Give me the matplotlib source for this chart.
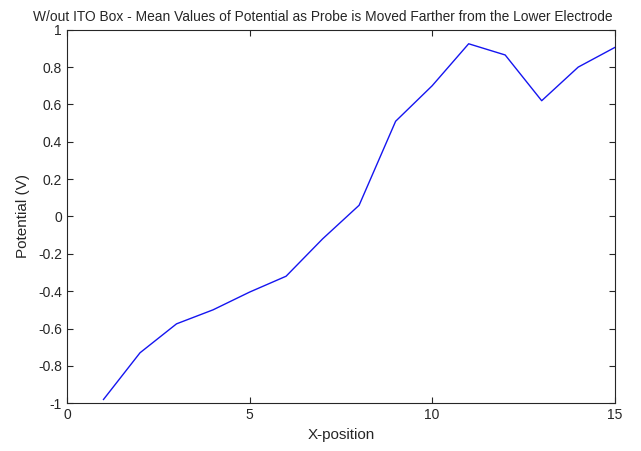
import matplotlib
matplotlib.use('Agg')
import matplotlib.pyplot as plt

plt.rcParams['font.family'] = ['Liberation Sans', 'DejaVu Sans']

# data
x_pos = [1, 2, 3, 4, 5, 6, 7, 8, 9, 10, 11, 12, 13, 14, 15]
potential = [-0.98, -0.73, -0.575, -0.50, -0.405, -0.32, -0.12, 0.06,
             0.51, 0.70, 0.925, 0.865, 0.62, 0.80, 0.905]
x_ticks = [0, 5, 10, 15]
y_ticks = [-1, -0.8, -0.6, -0.4, -0.2, 0, 0.2, 0.4, 0.6, 0.8, 1]

fig = plt.figure(figsize=(6.41, 4.51), dpi=100)
ax = fig.add_axes([0.1045, 0.106, 0.8545, 0.828])

ax.plot(x_pos, potential, color='#1515f0', linewidth=1.0)

ax.set_xlim(0, 15)
ax.set_ylim(-1, 1)
ax.set_xticks(x_ticks)
ax.set_yticks(y_ticks)
ax.set_yticklabels(['-1', '-0.8', '-0.6', '-0.4', '-0.2', '0', '0.2', '0.4', '0.6', '0.8', '1'])
ax.tick_params(direction='in', top=True, right=True, length=4, labelsize=10, color='#262626', labelcolor='#262626')
for s in ax.spines.values():
    s.set_color('#262626')
    s.set_linewidth(0.8)

ax.set_xlabel('X-position', fontsize=11, color='#262626')
ax.set_ylabel('Potential (V)', fontsize=11, color='#262626', labelpad=6)
# title is slightly left of the axes centre in the reference
ax.set_title('W/out ITO Box - Mean Values of Potential as Probe is Moved Farther from the Lower Electrode',
             fontsize=9.9, color='#262626', x=0.467, pad=6)

fig.savefig('out.png', dpi=100)
